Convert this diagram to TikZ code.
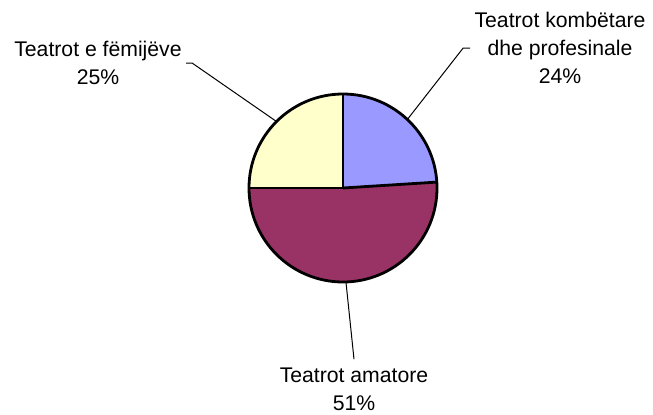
\documentclass[tikz,border=0pt]{standalone}
\usepackage{fontspec}
\setmainfont{Liberation Sans}
\usepackage{xcolor}
\usetikzlibrary{calc}
\definecolor{sliceblue}{HTML}{9999FF}
\definecolor{slicered}{HTML}{993366}
\definecolor{sliceyellow}{HTML}{FFFFCC}
\tikzset{
  slice/.style={draw=black, line width=1.4pt, line join=round},
  lbl/.style={align=center, inner sep=2pt, font=\fontsize{10.6}{14}\selectfont},
  leader/.style={line width=0.5pt}
}

\begin{document}
\begin{tikzpicture}[x=0.5pt,y=0.5pt]
\useasboundingbox (0,0) rectangle (653,414);
\coordinate (c) at (343,226);
\fill[sliceblue] (c) -- ++(90:47pt) arc (90:3.6:47pt) -- cycle;
\fill[slicered] (c) -- ++(3.6:47pt) arc (3.6:-180:47pt) -- cycle;
\fill[sliceyellow] (c) -- ++(180:47pt) arc (180:90:47pt) -- cycle;
\draw[slice] (c) -- ++(90:47pt);
\draw[slice] (c) -- ++(3.6:47pt);
\draw[slice] (c) -- ++(180:47pt);
\draw[slice] (c) circle (47pt);
\coordinate (rimblue) at ($(c)+(46.8:47pt)$);
\coordinate (rimred) at ($(c)+(-88.2:47pt)$);
\coordinate (rimyellow) at ($(c)+(135:47pt)$);
\node[lbl] (kombetare) at (560,366) {Teatrot kombëtare\\dhe profesinale\\24\%};
\node[lbl] (femijeve) at (98,351) {Teatrot e fëmijëve\\25\%};
\node[lbl, inner sep=4pt] (amatore) at (354,25) {Teatrot amatore\\51\%};
\draw[leader] (kombetare.west) -- ++(-7,0) -- (rimblue);
\draw[leader] (femijeve.east) -- ++(6,0) -- (rimyellow);
\draw[leader] (amatore.north) -- (rimred);
\end{tikzpicture}
\end{document}
